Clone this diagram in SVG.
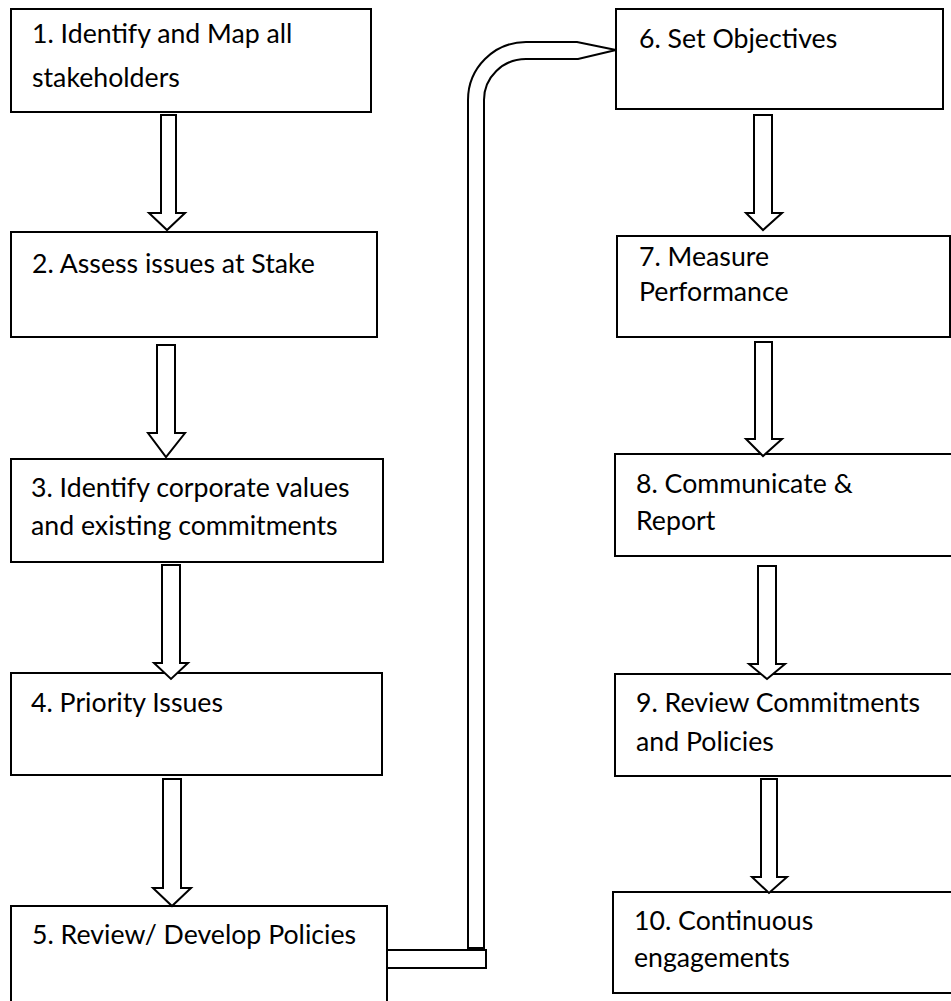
<svg xmlns="http://www.w3.org/2000/svg" width="951" height="1001" viewBox="0 0 951 1001">
  <style>
    .box { fill: #ffffff; stroke: #000000; stroke-width: 2; }
    .arrow { fill: #ffffff; stroke: #000000; stroke-width: 2; stroke-linejoin: miter; }
    .label { font-family: Lato, "Noto Sans", sans-serif; font-size: 26.7px; fill: #000000; }
  </style>
  <rect x="0" y="0" width="951" height="1001" fill="#ffffff"/>

  <!-- Left column -->
  <g id="node1">
    <rect class="box" x="11" y="9" width="360" height="103"/>
    <text class="label" x="32" y="43">1. Identify and Map all</text>
    <text class="label" x="32" y="87">stakeholders</text>
  </g>
  <g id="node2">
    <rect class="box" x="11" y="232" width="366" height="105"/>
    <text class="label" x="32" y="273">2. Assess issues at Stake</text>
  </g>
  <g id="node3">
    <rect class="box" x="11" y="459" width="372" height="103"/>
    <text class="label" x="31" y="497">3. Identify corporate values</text>
    <text class="label" x="31" y="535">and existing commitments</text>
  </g>
  <g id="node4">
    <rect class="box" x="11" y="673" width="371" height="102"/>
    <text class="label" x="31" y="712">4. Priority Issues</text>
  </g>
  <g id="node5">
    <rect class="box" x="11" y="906" width="376" height="110"/>
    <text class="label" x="32" y="944">5. Review/ Develop Policies</text>
  </g>

  <!-- Right column -->
  <g id="node6">
    <rect class="box" x="616" y="9" width="327" height="100"/>
    <text class="label" x="639" y="48">6. Set Objectives</text>
  </g>
  <g id="node7">
    <rect class="box" x="617" y="236" width="333" height="101"/>
    <text class="label" x="639" y="266">7. Measure</text>
    <text class="label" x="639" y="301">Performance</text>
  </g>
  <g id="node8">
    <rect class="box" x="615" y="454" width="350" height="102"/>
    <text class="label" x="636" y="493">8. Communicate &amp;</text>
    <text class="label" x="636" y="530">Report</text>
  </g>
  <g id="node9">
    <rect class="box" x="615" y="674" width="350" height="102"/>
    <text class="label" x="636" y="712">9. Review Commitments</text>
    <text class="label" x="636" y="751">and Policies</text>
  </g>
  <g id="node10">
    <rect class="box" x="613" y="892" width="352" height="101"/>
    <text class="label" x="634" y="930">10. Continuous</text>
    <text class="label" x="634" y="967">engagements</text>
  </g>

  <!-- Connectors: hollow block arrows -->
  <g id="connectors">
    <path class="arrow" d="M161 115 L176 115 L176 213 L185 213 L167 230 L149 213 L161 213 Z"/>
    <path class="arrow" d="M157 345 L175 345 L175 433 L185 433 L166 457 L148 433 L157 433 Z"/>
    <path class="arrow" d="M162 565 L180 565 L180 663 L188 663 L171 679 L154 663 L162 663 Z"/>
    <path class="arrow" d="M163 779 L181 779 L181 888 L191 888 L172 906 L153 888 L163 888 Z"/>

    <!-- bent arrow from step 5 up to step 6 -->
    <rect class="arrow" x="387" y="950" width="99" height="18"/>
    <path class="arrow" d="M468 948 L468 100 A58 58 0 0 1 526 42 L577 42 L616 50 L578 59 L526 59 A42 41 0 0 0 484 100 L484 948 Z"/>

    <path class="arrow" d="M754 115 L772 115 L772 213 L782 213 L763 230 L746 213 L754 213 Z"/>
    <path class="arrow" d="M755 342 L772 342 L772 439 L782 439 L763 456 L746 439 L755 439 Z"/>
    <path class="arrow" d="M758 566 L776 566 L776 664 L785 664 L767 679 L749 664 L758 664 Z"/>
    <path class="arrow" d="M761 779 L777 779 L777 877 L787 877 L769 893 L752 877 L761 877 Z"/>
  </g>
</svg>
